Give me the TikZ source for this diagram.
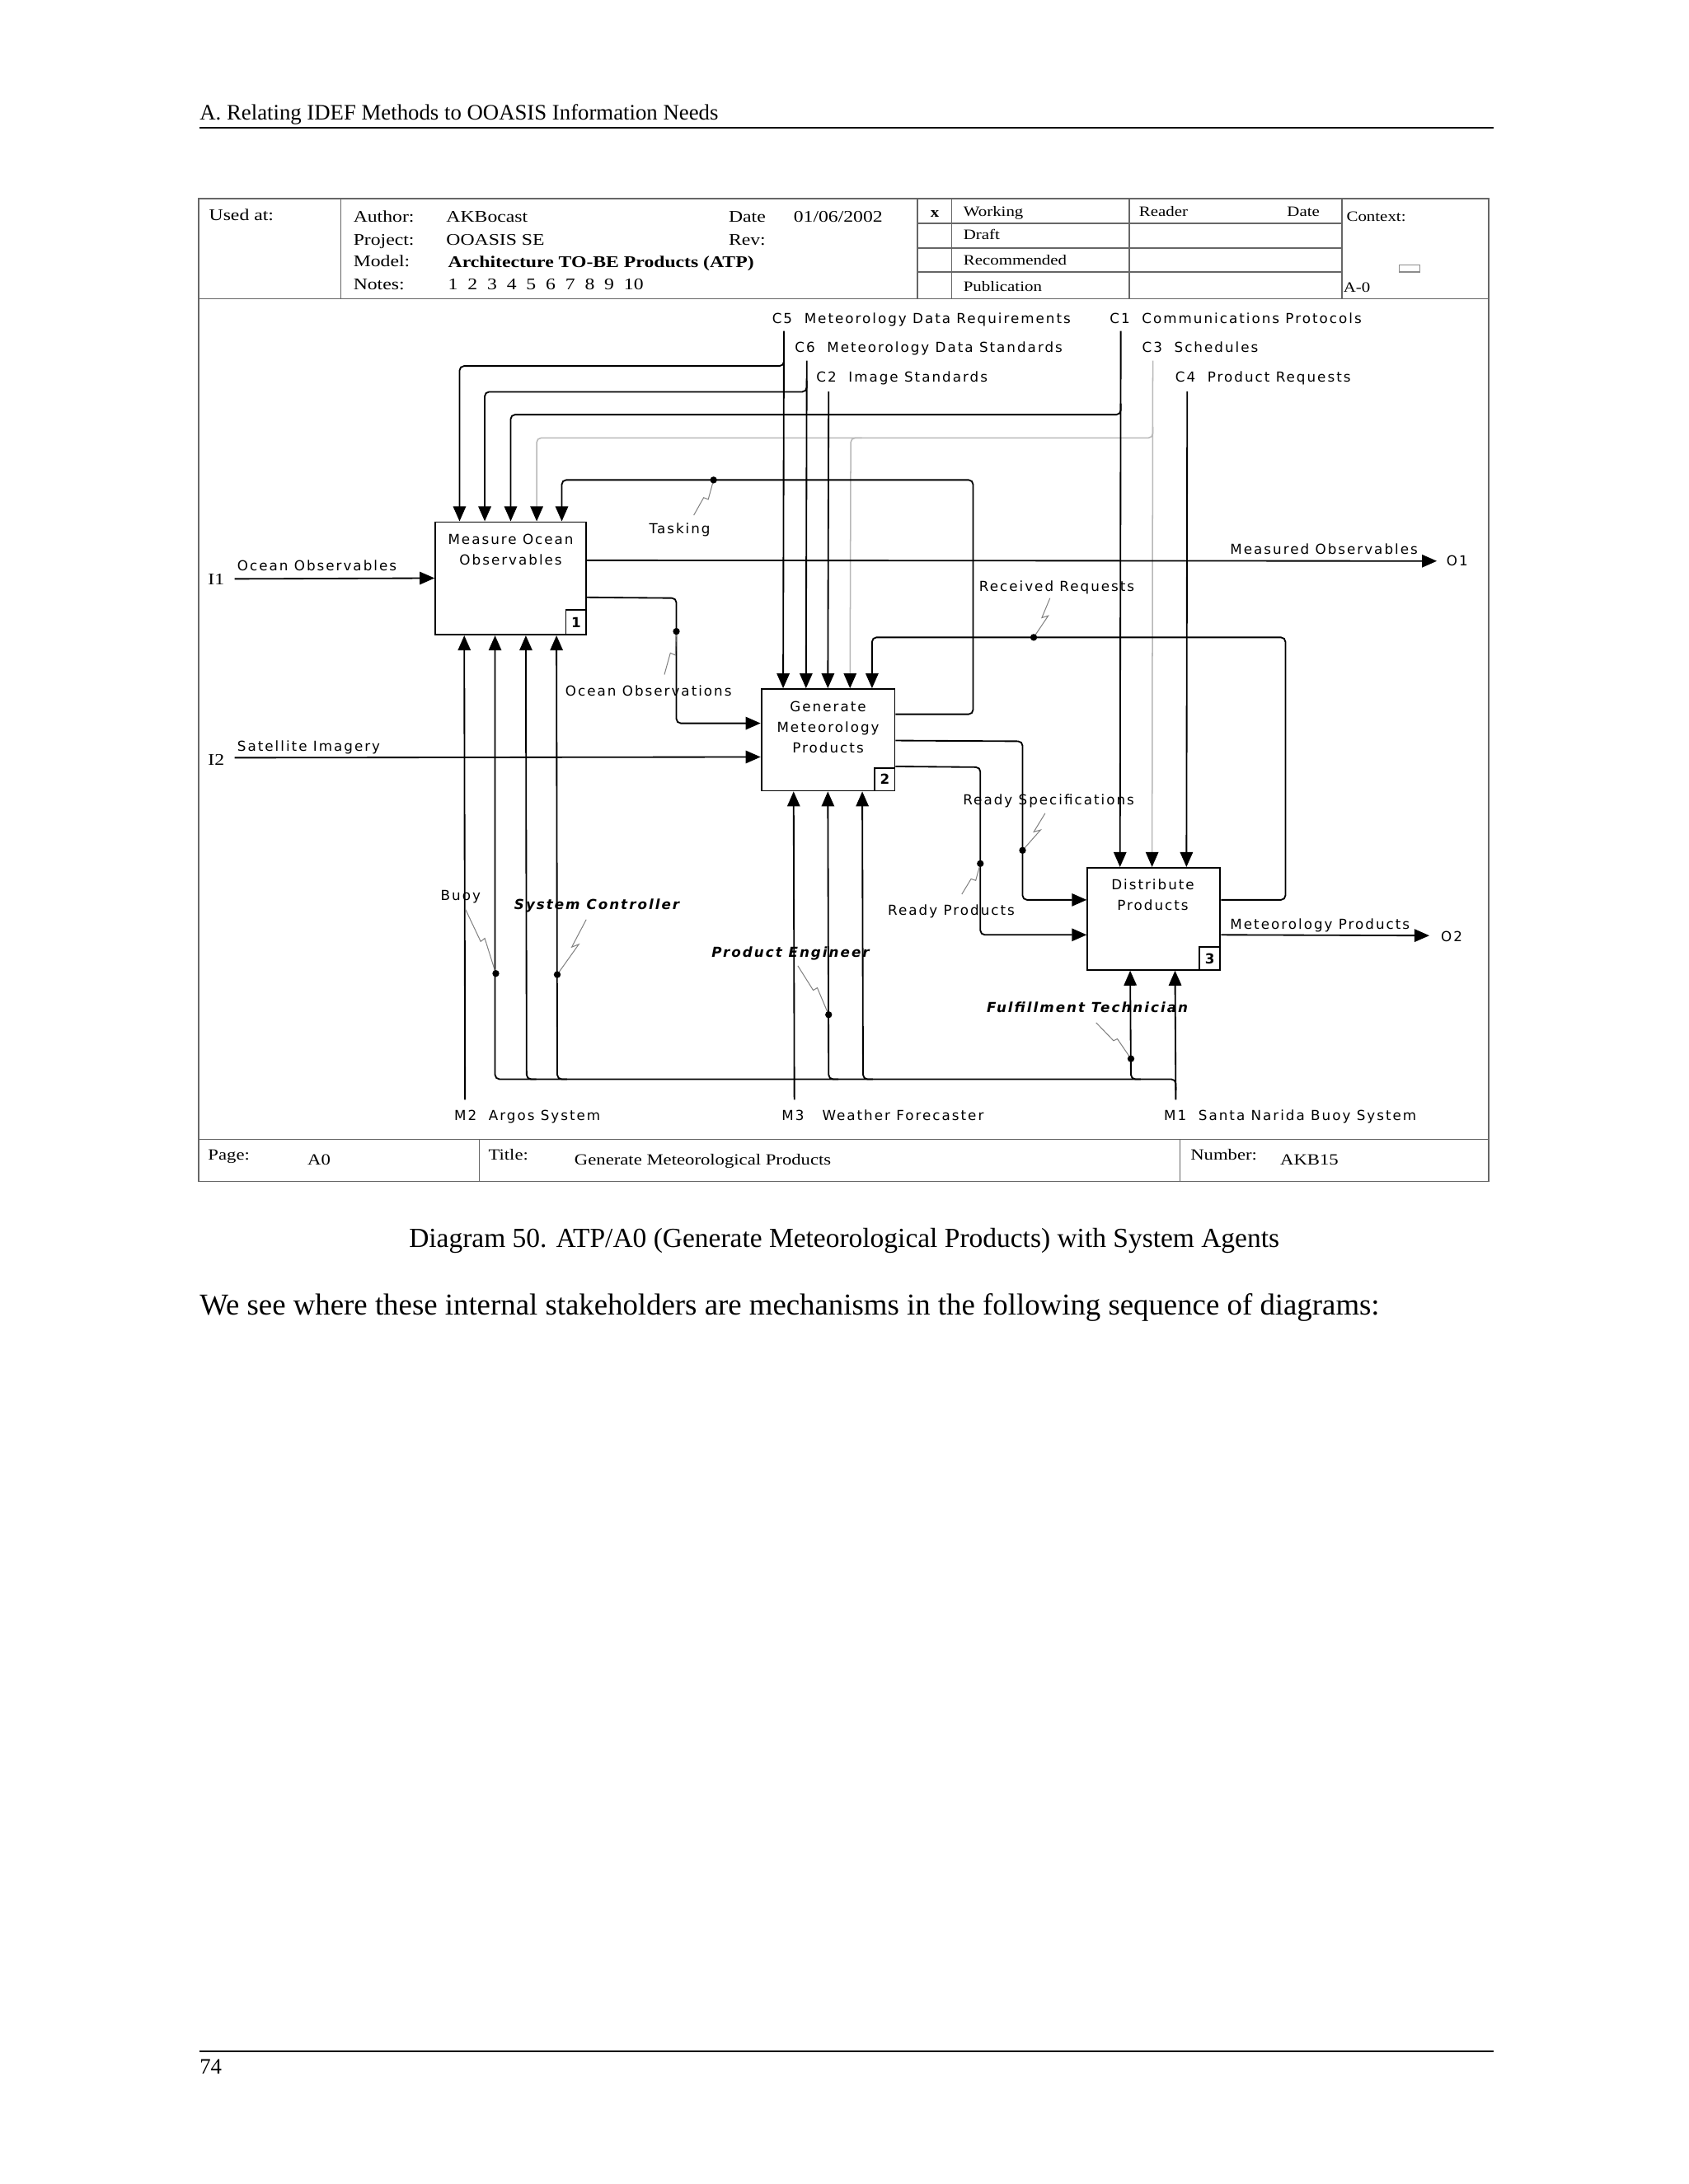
\documentclass[tikz,border=0pt]{standalone}
\usepackage{fontspec}
\setmainfont{Liberation Serif}
\newfontfamily\idef{DejaVu Sans}[LetterSpace=12]
\newfontfamily\hdr{Liberation Serif}[FakeStretch=1.2]
\usetikzlibrary{arrows.meta,fit,calc}
\newcommand\squig[2]{\draw[sq] (#1) -- ($(#1)!0.5!(#2)$) -- ($(#1)!0.45!(#2)+(4,0)$) -- (#2);}
\begin{document}
\begin{tikzpicture}[x=0.505pt,y=-0.505pt,
  ln/.style={line width=0.55pt, rounded corners=1.6pt},
  gln/.style={line width=0.45pt, draw=black!28, rounded corners=1.6pt},
  arr/.style={-{Triangle[length=5.4pt,width=4.6pt,color=black]}},
  frm/.style={draw=black!60, line width=0.45pt},
  sq/.style={draw=black!50, line width=0.3pt},
  lbl/.style={font=\idef\fontsize{5}{7.4}\selectfont, inner sep=0pt, anchor=west, text height=3.6pt, text depth=0pt},
  bilbl/.style={lbl, font=\idef\fontsize{5}{7.4}\selectfont\bfseries\itshape},
  btxt/.style={font=\idef\fontsize{5}{7.4}\selectfont, inner sep=0pt, anchor=north, align=center},
  boxst/.style={draw, line width=0.55pt, inner sep=0pt},
  numst/.style={font=\idef\fontsize{5}{6}\selectfont\bfseries, inner sep=0pt},
  hd/.style={font=\hdr\fontsize{5.9}{7}\selectfont, anchor=west, inner sep=0pt, text height=3.9pt, text depth=0pt},
  ft/.style={font=\hdr\fontsize{5.65}{7}\selectfont, anchor=west, inner sep=0pt, text height=3.75pt, text depth=0pt},
  hs/.style={font=\hdr\fontsize{5.2}{7}\selectfont, anchor=west, inner sep=0pt, text height=3.45pt, text depth=0pt},
  jdot/.style={fill=black},
]
\useasboundingbox (0,0) rectangle (1212,1568);
\fill[white] (0,0) rectangle (1212,1568);

% page text
\node[anchor=base west, inner sep=0pt, font=\fontsize{8}{10}\selectfont] (phead) at (143,86) {A. Relating IDEF Methods to OOASIS Information Needs};
\draw[line width=0.6pt] (143,92) -- (1072,92);
\node[anchor=base, inner sep=0pt, font=\fontsize{10}{12}\selectfont] (pcap) at (606,895.5) {Diagram 50. ATP/A0 (Generate Meteorological Products) with System Agents};
\node[anchor=base west, inner sep=0pt, font=\fontsize{11}{13}\selectfont] (pbody) at (143,944) {We see where these internal stakeholders are mechanisms in the following sequence of diagrams:};
\draw[line width=0.6pt] (143,1473) -- (1072,1473);
\node[anchor=base west, inner sep=0pt, font=\fontsize{8}{10}\selectfont] (pnum) at (143,1489) {74};

% frame
\draw[frm] (142.5,142.6) rectangle (1068.6,848.2);
\draw[frm] (142.5,214.6) -- (1068.6,214.6);
\draw[frm] (142.5,818) -- (1068.6,818);
\draw[frm] (244.8,142.6) -- (244.8,214.6);
\draw[frm] (658.6,142.6) -- (658.6,214.6);
\draw[frm] (683.1,142.6) -- (683.1,214.6);
\draw[frm] (810.7,142.6) -- (810.7,214.6);
\draw[frm] (963.4,142.6) -- (963.4,214.6);
\draw[frm] (658.6,160.2) -- (963.4,160.2);
\draw[frm] (658.6,178.1) -- (963.4,178.1);
\draw[frm] (658.6,195.3) -- (963.4,195.3);
\draw[frm] (344,818) -- (344,848.2);
\draw[frm] (847.1,818) -- (847.1,848.2);
\draw[draw=black!45, line width=0.35pt] (1004.2,190) rectangle (1019.1,195.3);

% header texts
\node[hd] (uat) at (149.7,154.5) {Used at:};
\node[hd] (hau) at (253.3,155.8) {Author:};
\node[hd] (hpr) at (253.3,172) {Project:};
\node[hd] (hmo) at (253.3,187.8) {Model:};
\node[hd] (hno) at (253.3,204.2) {Notes:};
\node[hd] (vau) at (320,155.8) {AKBocast};
\node[hd] (vpr) at (320,172) {OOASIS SE};
\node[hd,font=\hdr\fontsize{5.9}{7}\selectfont\bfseries] (vmo) at (321.3,188.4) {Architecture TO-BE Products (ATP)};
\node[hd] (vno) at (321.3,204.2) {1~~2~~3~~4~~5~~6~~7~~8~~9~~10};
\node[hd] (hda) at (522.7,155.8) {Date};
\node[hd] (vda) at (569.3,155.8) {01/06/2002};
\node[hd] (hrv) at (522.7,172) {Rev:};
\node[hs,font=\hdr\fontsize{5.2}{7}\selectfont\bfseries] (hx) at (667.5,152.3) {x};
\node[hs] (swk) at (691.2,151.9) {Working};
\node[hs] (sdr) at (691.2,168.7) {Draft};
\node[hs] (src) at (691.2,187) {Recommended};
\node[hs] (spu) at (691.2,205.5) {Publication};
\node[hs] (srd) at (817.3,151.9) {Reader};
\node[hs] (sdt) at (923.5,151.9) {Date};
\node[hs] (sct) at (966.2,155.3) {Context:};
\node[hs] (sa0) at (964,206.1) {A-0};

% footer texts
\node[ft] (fpg) at (149,829) {Page:};
\node[ft] (fpv) at (220.4,832.4) {A0};
\node[ft] (ftl) at (350.2,829) {Title:};
\node[ft] (ftv) at (412,832.4) {Generate Meteorological Products};
\node[ft] (fnm) at (854.2,829) {Number:};
\node[ft] (fnv) at (918.6,832.4) {AKB15};

% boxes
\node[boxst, fit={(312.5,374.8) (420.8,455.7)}] (b1) {};
\node[boxst, fit={(546.5,494.7) (642.3,567.7)}] (b2) {};
\node[boxst, fit={(780.6,623) (875.9,696.3)}] (b3) {};
\node[boxst, fit={(406.2,437.9) (420.8,455.7)}] (n1) {};
\node[boxst, fit={(628,551.4) (642.3,567.7)}] (n2) {};
\node[boxst, fit={(860.8,680) (875.9,696.3)}] (n3) {};
\node[numst] (n1t) at (n1.center) {1};
\node[numst] (n2t) at (n2.center) {2};
\node[numst] (n3t) at (n3.center) {3};
\node[btxt] (t1) at (366.6,383) {Measure Ocean\\Observables};
\node[btxt] (t2) at (594.4,503.4) {Generate\\Meteorology\\Products};
\node[btxt] (t3) at (827.5,630.8) {Distribute\\Products};

% controls
\coordinate (c5) at (562.7,237.7);
\coordinate (c5j) at (562.7,262.8);
\coordinate (c6) at (579.1,259);
\coordinate (c6j) at (579.1,281.3);
\coordinate (c2) at (594.8,281.1);
\coordinate (c1) at (804.5,237.7);
\coordinate (c1j) at (804.5,297.7);
\coordinate (c3) at (827.5,259);
\coordinate (c3j) at (827.5,314.4);
\coordinate (c3k) at (610.7,314.4);
\coordinate (c4) at (852.2,281);
\draw[gln,arr] (c3) -- ($(b3.north west)+(46.9,0)$);
\draw[gln,arr] ($(c3j)+(0,-8)$) -- (c3j) -| ($(b1.north west)+(73.3,0)$);
\draw[gln,arr] ($(c3k)+(8,0)$) -- (c3k) -- ($(b2.north west)+(64.2,0)$);
\draw[ln,arr] (c5) -- ($(b2.north west)+(16.2,0)$);
\draw[ln,arr] ($(c5j)+(0,-8)$) -- (c5j) -| ($(b1.north west)+(17.9,0)$);
\draw[ln,arr] (c6) -- ($(b2.north west)+(32.6,0)$);
\draw[ln,arr] ($(c6j)+(0,-8)$) -- (c6j) -| ($(b1.north west)+(36,0)$);
\draw[ln,arr] (c2) -- ($(b2.north west)+(48.3,0)$);
\draw[ln,arr] (c1) -- ($(b3.north west)+(23.9,0)$);
\draw[ln,arr] ($(c1j)+(0,-8)$) -- (c1j) -| ($(b1.north west)+(54.6,0)$);
\draw[ln,arr] (c4) -- ($(b3.north west)+(71.6,0)$);

% feedback and flows
\coordinate (tk) at (698.5,344.6);
\draw[ln,arr] ($(b2.north east)+(0,18.6)$) -| (tk) -| ($(b1.north west)+(91.3,0)$);
\coordinate (rr) at (922.7,457.6);
\draw[ln,arr] ($(b3.north east)+(0,23.6)$) -| (rr) -| ($(b2.north west)+(80,0)$);
\coordinate (oo) at (485.5,429.4);
\draw[ln,arr] ($(b1.north east)+(0,54.6)$) -- (oo) |- ($(b2.north west)+(0,25.1)$);
\coordinate (rs) at (734,532.2);
\draw[ln,arr] ($(b2.north east)+(0,37.5)$) -- (rs) |- ($(b3.north west)+(0,23.6)$);
\coordinate (rp) at (703.7,550.8);
\draw[ln,arr] ($(b2.north east)+(0,56.1)$) -- (rp) |- ($(b3.north west)+(0,48.7)$);
\coordinate (o1) at (1031.4,402.8);
\draw[ln,arr] ($(b1.north east)+(0,28)$) -- (o1);
\coordinate (o2) at (1026,671.7);
\draw[ln,arr] ($(b3.north east)+(0,48.7)$) -- (o2);
\coordinate (i1) at (168.4,415.6);
\draw[ln,arr] (i1) -- ($(b1.north west)+(0,40.8)$);
\coordinate (i2) at (168.4,544);
\draw[ln,arr] (i2) -- ($(b2.north west)+(0,49.3)$);

% mechanisms
\coordinate (m2) at (333.8,789.6);
\coordinate (m3) at (570.2,789.6);
\coordinate (m1) at (844,789.6);
\coordinate (bus) at (844,774.8);
\draw[ln,arr] (m2) -- ($(b1.south west)+(21.3,0)$);
\draw[ln,arr] (m3) -- ($(b2.south west)+(23.7,0)$);
\draw[ln,arr] (m1) -- ($(b3.south west)+(63.4,0)$);
\draw[ln,arr] ($(bus)+(0,8)$) -- (bus) -| ($(b1.south west)+(43.4,0)$);
\coordinate (bj1) at (378,774.8);
\coordinate (bj2) at (400,774.8);
\coordinate (bj3) at (594.8,774.8);
\coordinate (bj4) at (619.5,774.8);
\coordinate (bj5) at (811.8,774.8);
\draw[ln,arr] ($(bj1)+(7,0)$) -- (bj1) -- ($(b1.south west)+(65.5,0)$);
\draw[ln,arr] ($(bj2)+(7,0)$) -- (bj2) -- ($(b1.south west)+(87.5,0)$);
\draw[ln,arr] ($(bj3)+(7,0)$) -- (bj3) -- ($(b2.south west)+(48.3,0)$);
\draw[ln,arr] ($(bj4)+(7,0)$) -- (bj4) -- ($(b2.south west)+(73,0)$);
\draw[ln,arr] ($(bj5)+(7,0)$) -- (bj5) -- ($(b3.south west)+(31.2,0)$);

% dots and squiggles
\coordinate (dtk) at (512.2,344.6);
\coordinate (doo) at (485.5,453.3);
\coordinate (drr) at (742,457.6);
\coordinate (drs) at (734,610.5);
\coordinate (drp) at (703.7,620);
\coordinate (dbu) at (355.9,698.9);
\coordinate (dsc) at (400,699.7);
\coordinate (dpe) at (594.8,728.5);
\coordinate (dft) at (811.8,760.1);
\coordinate (stk) at (498,369.9);
\coordinate (soo) at (476.9,484.3);
\coordinate (srr) at (753.7,429.4);
\coordinate (srs) at (750.2,583.9);
\coordinate (srp) at (690.4,642);
\coordinate (sbu) at (334.2,653);
\coordinate (ssc) at (420.8,660.2);
\coordinate (spe) at (572.7,693.4);
\coordinate (sft) at (786.8,734.2);
\squig{stk}{dtk}
\squig{soo}{doo}
\squig{srr}{drr}
\squig{srs}{drs}
\squig{srp}{drp}
\squig{sbu}{dbu}
\squig{ssc}{dsc}
\squig{spe}{dpe}
\squig{sft}{dft}
\foreach \d in {dtk,doo,drr,drs,drp,dbu,dsc,dpe,dft} {\fill[jdot] (\d) circle[radius=1.25pt];}

% labels
\node[lbl] (lc5) at (553.9,228.6) {C5\ \ Meteorology Data Requirements};
\node[lbl] (lc6) at (570.2,249.5) {C6\ \ Meteorology Data Standards};
\node[lbl] (lc2) at (585.6,270.6) {C2\ \ Image Standards};
\node[lbl] (lc1) at (796.3,228.4) {C1\ \ Communications Protocols};
\node[lbl] (lc3) at (819.5,249.5) {C3\ \ Schedules};
\node[lbl] (lc4) at (843.3,270.6) {C4\ \ Product Requests};
\node[hd] (li1) at (149,415.8) {I1};
\node[hd] (li2) at (149,545.8) {I2};
\node[lbl] (lio) at (170,406.4) {Ocean Observables};
\node[lbl] (lsi) at (170,535.6) {Satellite Imagery};
\node[lbl] (ltk) at (465.6,379.7) {Tasking};
\node[lbl] (lmo) at (882.7,394.5) {Measured Observables};
\node[lbl] (lo1) at (1038,402.4) {O1};
\node[lbl] (lrr) at (702.5,421.2) {Received Requests};
\node[lbl] (loo) at (405.5,496.1) {Ocean Observations};
\node[lbl] (lrs) at (690.9,574) {Ready Specifications};
\node[lbl] (lrp) at (637,653.5) {Ready Products};
\node[lbl] (lmp) at (882.7,663.8) {Meteorology Products};
\node[lbl] (lo2) at (1034,672.7) {O2};
\node[lbl] (lbu) at (316,643) {Buoy};
\node[bilbl] (lsc) at (368.8,649.4) {System Controller};
\node[bilbl] (lpe) at (510.5,683.5) {Product Engineer};
\node[bilbl] (lft) at (708,723.5) {Fulfillment Technician};
\node[lbl] (lm2) at (325.7,800.9) {M2\ \ Argos System};
\node[lbl] (lm3) at (560.8,800.9) {M3\ \ \ Weather Forecaster};
\node[lbl] (lm1) at (835.2,800.9) {M1\ \ Santa Narida Buoy System};
\end{tikzpicture}
\end{document}
